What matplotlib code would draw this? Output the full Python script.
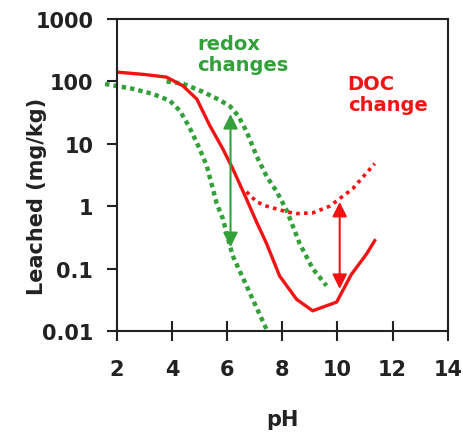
import matplotlib.pyplot as plt

# leaching curves, pH vs mg/kg
ph_base = [2.0, 3.0, 3.8, 4.39, 4.9, 5.37, 5.84, 6.2, 6.7, 7.07, 7.43, 7.9, 8.52, 9.1,
           9.97, 10.5, 11.05, 11.35]
base = [141, 129, 117, 85, 52, 19.5, 8.3, 4.0, 1.3, 0.55, 0.25, 0.076, 0.032, 0.021,
        0.029, 0.08, 0.17, 0.28]

ph_doc = [6.7, 7.07, 7.43, 8.16, 8.5, 9.1, 9.72, 10.55, 11.35]
doc = [1.7, 1.17, 1.0, 0.81, 0.76, 0.78, 1.0, 1.9, 4.8]

ph_ox = [3.8, 4.39, 5.12, 5.73, 6.1, 6.4, 6.71, 7.07, 7.43, 7.8, 8.16, 8.63, 9.1, 9.6]
ox = [100, 92, 68, 50, 40, 28, 15.5, 6.3, 3.0, 1.7, 0.85, 0.25, 0.1, 0.053]

ph_red = [1.57, 2.58, 3.3, 3.92, 4.28, 4.64, 5.0, 5.26, 5.62, 5.84, 6.2, 6.7, 7.43]
red = [91, 76, 63, 49, 34, 18, 8.3, 4.4, 1.1, 0.63, 0.16, 0.053, 0.0105]

green = '#33a03a'
rcol = '#f21414'
ink = '#222222'

plt.rcParams['font.family'] = ['DejaVu Sans']

fig = plt.figure(figsize=(4.64, 4.35), dpi=100)
ax = fig.add_axes([0.252, 0.237, 0.713, 0.717])

ax.plot(ph_red, red, color=green, lw=3.2, ls=(0, (1, 0.9)), clip_on=False)
ax.plot(ph_ox, ox, color=green, lw=3.2, ls=(0, (1, 0.9)))
ax.plot(ph_doc, doc, color=rcol, lw=2.6, ls=(0, (1, 1.2)))
ax.plot(ph_base, base, color=rcol, lw=2.4)

# double-headed arrows
ax.annotate('', xy=(6.12, 30), xytext=(6.12, 0.22),
            arrowprops=dict(arrowstyle='<|-|>', color=green, lw=1.5,
                            mutation_scale=22, shrinkA=0, shrinkB=0))
ax.annotate('', xy=(10.08, 1.17), xytext=(10.08, 0.047),
            arrowprops=dict(arrowstyle='<|-|>', color=rcol, lw=1.5,
                            mutation_scale=22, shrinkA=0, shrinkB=0))

ax.text(4.9, 575, 'redox\nchanges', color=green, fontsize=14, fontweight='bold',
        ha='left', va='top', linespacing=1.1)
ax.text(10.37, 131, 'DOC\nchange', color=rcol, fontsize=14, fontweight='bold',
        ha='left', va='top', linespacing=1.1)

ax.set_yscale('log')
ax.set_xlim(2, 14)
ax.set_ylim(0.01, 1000)
ax.set_xticks([2, 4, 6, 8, 10, 12, 14])
ax.set_yticks([0.01, 0.1, 1, 10, 100, 1000])
ax.set_yticklabels(['0.01', '0.1', '1', '10', '100', '1000'])
ax.minorticks_off()

ax.tick_params(axis='x', direction='inout', length=14, width=1.5, pad=13,
               labelsize=15, colors=ink)
ax.tick_params(axis='y', direction='out', length=7, width=1.5, pad=10,
               labelsize=15, colors=ink)
for lab in ax.get_xticklabels() + ax.get_yticklabels():
    lab.set_fontweight('bold')
for s in ax.spines.values():
    s.set_linewidth(1.5)
    s.set_color(ink)

ax.set_xlabel('pH', fontsize=15, fontweight='bold', color=ink, labelpad=22)
ax.set_ylabel('Leached (mg/kg)', fontsize=15, fontweight='bold', color=ink)
ax.yaxis.set_label_coords(-0.21, 0.433)

fig.savefig('out.png', dpi=100)
